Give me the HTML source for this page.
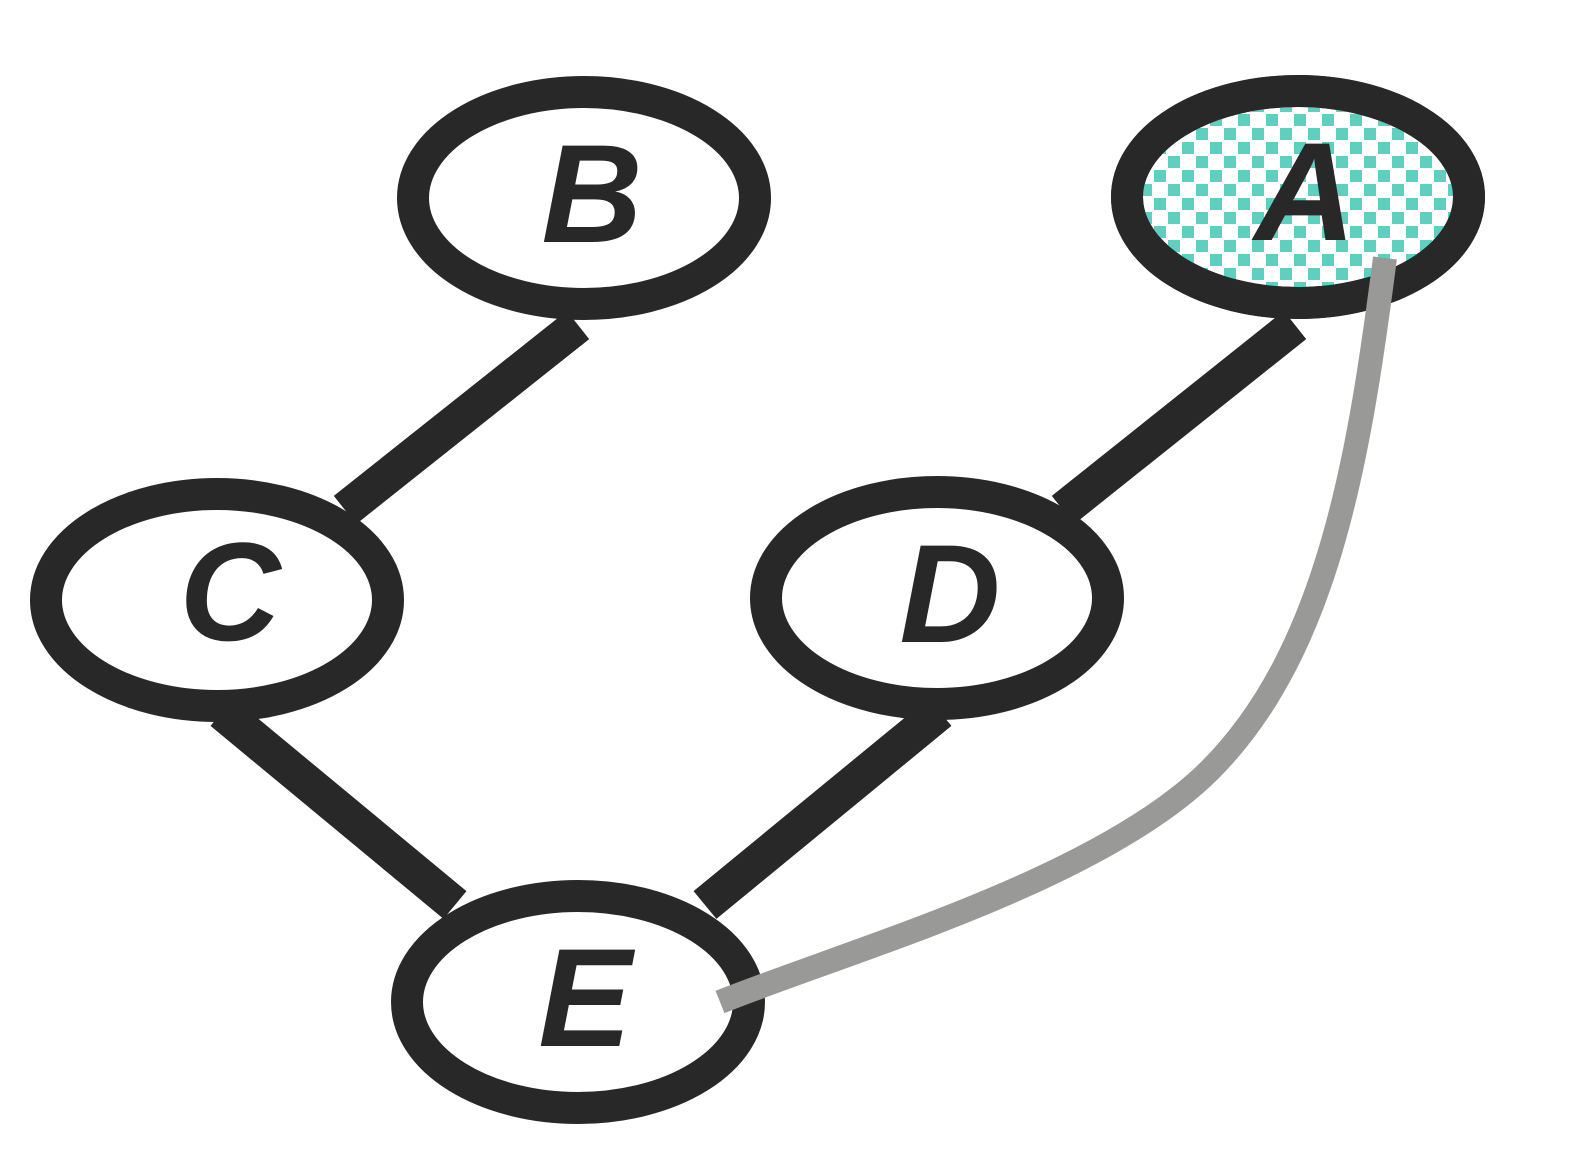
<!DOCTYPE html>
<html><head><style>body{margin:0;background:#fff}</style></head><body>
<svg width="1580" height="1164" viewBox="0 0 1580 1164" xmlns="http://www.w3.org/2000/svg">
<defs>
<pattern id="chk" width="28" height="28" patternUnits="userSpaceOnUse" x="1140" y="100">
<rect x="0" y="0" width="12" height="12" fill="#5fcfc0"/>
<rect x="14" y="14" width="12" height="12" fill="#5fcfc0"/>
</pattern>
</defs>
<g stroke="#282828" stroke-width="36" stroke-linecap="butt">
<line x1="578" y1="325" x2="345" y2="510"/>
<line x1="1295" y1="325" x2="1063" y2="510"/>
<line x1="222" y1="712" x2="455" y2="905"/>
<line x1="940" y1="712" x2="705" y2="905"/>
</g>
<g stroke="#282828" stroke-width="32">
<ellipse cx="584" cy="198" rx="171" ry="106" fill="#fff"/>
<ellipse cx="1298" cy="197" rx="171" ry="106" fill="#fff"/>
<ellipse cx="1298" cy="197" rx="171" ry="106" fill="url(#chk)"/>
<ellipse cx="217" cy="600" rx="171" ry="106" fill="#fff"/>
<ellipse cx="937" cy="598" rx="171" ry="106" fill="#fff"/>
<ellipse cx="578" cy="1002" rx="171" ry="106" fill="#fff"/>
</g>
<path d="M1385,258 C1360,450 1330,650 1210,770 C1100,880 850,950 720,1002" fill="none" stroke="#999a98" stroke-width="24"/>
<g font-family="Liberation Sans, sans-serif" font-weight="bold" font-style="italic" font-size="140" fill="#282828" text-anchor="middle">
<text x="592" y="242">B</text>
<text x="1305" y="240">A</text>
<text x="230" y="640">C</text>
<text x="950" y="642">D</text>
<text x="585" y="1046">E</text>
</g>
</svg>
</body></html>
